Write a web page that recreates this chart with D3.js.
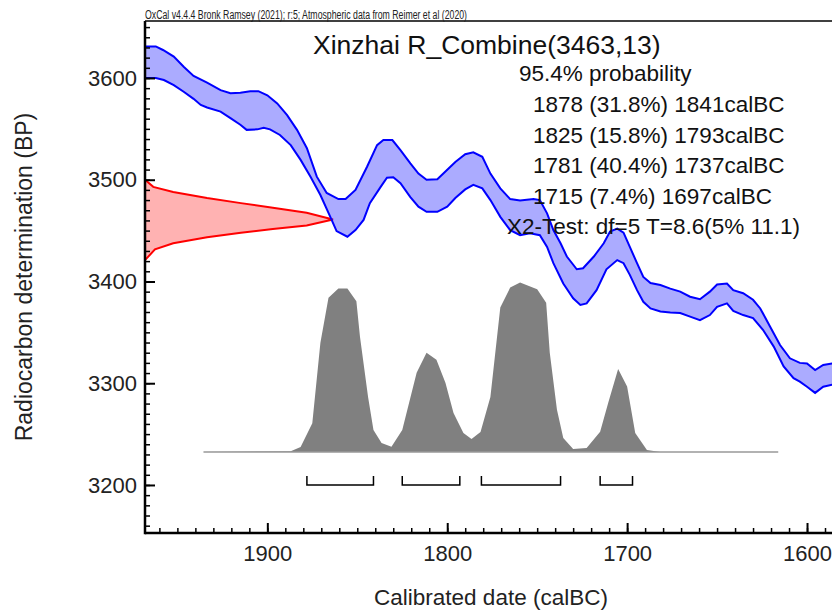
<!DOCTYPE html>
<html>
<head>
<meta charset="utf-8">
<script src="https://cdn.jsdelivr.net/npm/d3@7"></script>
<style>
  body { margin: 0; background: #fff; }
  svg { display: block; font-family: "Liberation Sans", Arial, sans-serif; }
</style>
</head>
<body>
<svg id="vis" width="832" height="611"></svg>
<script>
// calibration curve (IntCal20), upper / lower 1-sigma edge: [calBC, BP]
const calUpper = [[1968,3631],[1962,3631],[1958,3627.5],[1952,3621],[1946.5,3611],[1941,3602],[1933.5,3595.5],[1926,3588],[1920.5,3585],[1915,3585.5],[1909.5,3587],[1905,3587],[1900,3583],[1894.5,3575],[1889,3563.5],[1883.5,3549],[1878,3531],[1872.5,3503],[1867,3487],[1860.5,3481],[1856.5,3481],[1851,3490],[1844.5,3513],[1839,3534],[1835.5,3539],[1830.5,3539],[1826,3529],[1820.5,3516],[1816,3506],[1811.5,3500],[1805.5,3500.5],[1801,3508],[1795.5,3517.5],[1790,3525],[1785.5,3527],[1780.5,3522.5],[1776,3506],[1770.5,3491.5],[1765,3481],[1759.5,3479.5],[1752,3481],[1748.5,3480],[1744.5,3467],[1741,3450.5],[1737,3437.5],[1733.5,3424.5],[1728,3412],[1724.5,3413],[1718.5,3424.5],[1713,3437.5],[1709.5,3449],[1705.5,3452],[1702,3448],[1698.5,3434],[1694.5,3418],[1691,3404.5],[1687,3398.5],[1681.5,3396.5],[1676,3393],[1670.5,3390],[1665,3385],[1659.5,3382.5],[1654,3390],[1650,3397],[1644.5,3398],[1641,3391.5],[1635.5,3388.5],[1630,3382],[1626,3373.5],[1620.5,3355.5],[1615,3337.5],[1609.5,3324.5],[1604,3320],[1600,3319.5],[1595.5,3313],[1591,3318],[1586,3319.5],[1580,3320]];
const calLower = [[1968,3600],[1962,3600],[1957.5,3598],[1952,3593],[1946.5,3586.5],[1941,3579.5],[1937,3573.5],[1933.5,3571],[1926,3567],[1920.5,3560.5],[1915,3554],[1911.5,3549],[1905.5,3549.5],[1902,3551],[1898.5,3549.5],[1893,3544],[1887,3534],[1881.5,3519.5],[1876,3503],[1870.5,3485],[1865,3463.5],[1861.5,3449.5],[1855.5,3444],[1851,3450.5],[1846.5,3460.5],[1843,3477],[1837,3493],[1833.5,3502],[1830,3502.5],[1826,3496.5],[1820.5,3483],[1816,3473.5],[1811.5,3468.5],[1805.5,3468.5],[1800,3473.5],[1795.5,3482],[1790,3490.5],[1785.5,3495],[1780.5,3491.5],[1776,3480],[1770.5,3463.5],[1765,3450.5],[1759.5,3445.5],[1754,3447.5],[1748.5,3445.5],[1744.5,3434],[1741,3418],[1735.5,3398],[1730,3383.5],[1726,3377],[1722.5,3378.5],[1717,3391.5],[1711.5,3412],[1705.5,3421],[1702,3418],[1698.5,3406.5],[1694.5,3391.5],[1691,3380],[1687,3373.5],[1681.5,3370.5],[1676,3369.5],[1670.5,3369],[1665,3365.5],[1659.5,3362],[1654,3367],[1650,3375],[1644.5,3378.5],[1641,3371],[1635.5,3367],[1630,3364],[1624.5,3352.5],[1618.5,3336],[1613,3316.5],[1607.5,3305],[1604,3301.5],[1600,3296.5],[1595.5,3290.5],[1591,3296.5],[1586,3298.5],[1580,3299]];

// radiocarbon measurement R_Combine(3463,13): [BP, relative density]
const radiocarbon = [[3500,0],[3493,0.044],[3488,0.15],[3482,0.33],[3477,0.51],[3472.5,0.68],[3467.5,0.86],[3461,1],[3455,0.86],[3451.5,0.68],[3448,0.51],[3443.5,0.33],[3437.5,0.15],[3431.5,0.053],[3421,0]];

// calibrated distribution: [calBC, relative probability]
const calibrated = [[1935.5,0],[1887,0.005],[1881.5,0.03],[1875,0.17],[1870.5,0.645],[1866,0.91],[1860.5,0.965],[1855.5,0.965],[1850.5,0.89],[1848.5,0.68],[1844,0.325],[1841,0.13],[1836.5,0.053],[1831,0.031],[1825,0.13],[1817,0.467],[1811.5,0.586],[1806,0.544],[1801,0.408],[1796.5,0.23],[1791,0.112],[1786.5,0.077],[1781.5,0.118],[1776,0.325],[1770.5,0.852],[1765,0.97],[1759.5,1],[1750,0.96],[1745,0.88],[1743,0.586],[1739,0.25],[1735.5,0.083],[1730,0.018],[1722.5,0.024],[1715,0.12],[1710.5,0.29],[1705,0.49],[1700,0.386],[1695.5,0.112],[1689,0.012],[1681.5,0],[1616,0]];

// 95.4% ranges
const rangeFrom = [1878, 1825, 1781, 1715];
const rangeTo = [1841, 1793, 1737, 1697];
const rangePct = ["31.8", "15.8", "40.4", "7.4"];

const xTicks = [1900, 1800, 1700, 1600];
const yTicks = [3200, 3300, 3400, 3500, 3600];

const header = "OxCal v4.4.4 Bronk Ramsey (2021); r:5; Atmospheric data from Reimer et al (2020)";
const title = "Xinzhai R_Combine(3463,13)";
const chiTest = "X2-Test: df=5 T=8.6(5% 11.1)";

function draw() {
    let svg = d3.select("#vis");
    let left = 145, top = 21, bottom = 533, right = 843;

    let x = d3.scaleLinear().domain([1968, 1580]).range([left, right]);
    let y = d3.scaleLinear().domain([3152.8, 3656]).range([bottom, top]);
    let rx = d3.scaleLinear().domain([0, 1]).range([left, 333]);   // density along y axis
    let py = d3.scaleLinear().domain([0, 1]).range([452, 282.5]);  // calibrated prob

    svg.append("defs").append("clipPath").attr("id", "plotclip")
        .append("rect").attr("x", left).attr("y", top)
        .attr("width", right - left).attr("height", bottom - top);

    let g = svg.append("g").attr("clip-path", "url(#plotclip)");

    // calibrated distribution
    g.append("path")
        .datum(calibrated)
        .attr("fill", "#808080")
        .attr("d", d3.area().x(d => x(d[0])).y0(py(0)).y1(d => py(d[1])));
    g.append("line")
        .attr("x1", x(calibrated[0][0])).attr("x2", x(calibrated[calibrated.length - 1][0]))
        .attr("y1", py(0)).attr("y2", py(0))
        .attr("stroke", "#999").attr("stroke-width", 1.5);

    // radiocarbon determination
    g.append("path")
        .datum(radiocarbon)
        .attr("fill", "rgba(255,0,0,0.3)")
        .attr("stroke", "#ff0000")
        .attr("stroke-width", 2)
        .attr("d", d3.area().y(d => y(d[0])).x0(rx(0)).x1(d => rx(d[1])));

    // calibration curve band
    let bandLine = d3.line().x(d => x(d[0])).y(d => y(d[1]));
    g.append("path")
        .attr("fill", "rgba(0,0,255,0.33)")
        .attr("d", bandLine(calUpper.concat(calLower.slice().reverse())) + "Z");
    [calUpper, calLower].forEach(edge => {
        g.append("path")
            .datum(edge)
            .attr("fill", "none")
            .attr("stroke", "#0000ff")
            .attr("stroke-width", 2)
            .attr("d", bandLine);
    });

    // range brackets
    let br = svg.append("g").attr("stroke", "#000").attr("stroke-width", 1.5).attr("fill", "none");
    rangeFrom.forEach((f, i) => {
        let x0 = x(f), x1 = x(rangeTo[i]);
        br.append("path").attr("d", `M${x0},476V485H${x1}V476`);
    });

    // axes
    let yMinor = d3.range(3160, 3660, 10);
    let xMinor = d3.range(1960, 1580, -10);

    svg.append("g").attr("transform", `translate(${left},0)`)
        .call(d3.axisLeft(y).tickValues(yMinor).tickSize(-5).tickFormat("").tickSizeOuter(0))
        .call(a => a.select(".domain").remove())
        .selectAll("line").attr("stroke-width", 1.5);
    svg.append("g").attr("transform", `translate(0,${bottom})`)
        .call(d3.axisBottom(x).tickValues(xMinor).tickSize(-5).tickFormat("").tickSizeOuter(0))
        .call(a => a.select(".domain").remove())
        .selectAll("line").attr("stroke-width", 1.5);

    let yAxis = svg.append("g").attr("transform", `translate(${left},0)`)
        .call(d3.axisLeft(y).tickValues(yTicks).tickFormat(d3.format("d"))
            .tickSize(-10).tickSizeOuter(0).tickPadding(8));
    yAxis.select(".domain").remove();
    yAxis.selectAll("line").attr("stroke-width", 2);
    yAxis.selectAll("text").attr("font-size", 22).attr("fill", "#222")
        .attr("font-family", "Liberation Sans, Arial, sans-serif");

    let xAxis = svg.append("g").attr("transform", `translate(0,${bottom})`)
        .call(d3.axisBottom(x).tickValues(xTicks).tickFormat(d3.format("d"))
            .tickSize(-10).tickSizeOuter(0).tickPadding(12));
    xAxis.select(".domain").remove();
    xAxis.selectAll("line").attr("stroke-width", 2);
    xAxis.selectAll("text").attr("font-size", 22).attr("fill", "#222")
        .attr("font-family", "Liberation Sans, Arial, sans-serif");

    // frame
    svg.append("line").attr("x1", left).attr("x2", 832).attr("y1", top).attr("y2", top)
        .attr("stroke", "#000").attr("stroke-width", 1.5);
    svg.append("line").attr("x1", left).attr("x2", left).attr("y1", top).attr("y2", bottom + 1.25)
        .attr("stroke", "#000").attr("stroke-width", 2.5);
    svg.append("line").attr("x1", left).attr("x2", 832).attr("y1", bottom).attr("y2", bottom)
        .attr("stroke", "#000").attr("stroke-width", 2.5);

    // texts
    svg.append("text").attr("x", left).attr("y", 18.5)
        .attr("font-size", 12).attr("fill", "#222")
        .attr("textLength", 322).attr("lengthAdjust", "spacingAndGlyphs")
        .text(header);

    svg.append("text").attr("x", 313).attr("y", 54)
        .attr("font-size", 26.5).attr("fill", "#111")
        .text(title);

    let info = svg.append("g").attr("font-size", 22.5).attr("fill", "#111");
    info.append("text").attr("x", 519).attr("y", 81).text("95.4% probability");
    rangeFrom.forEach((f, i) => {
        info.append("text").attr("x", 533).attr("y", 112 + i * 30.6)
            .text(`${f} (${rangePct[i]}%) ${rangeTo[i]}calBC`);
    });
    info.append("text").attr("x", 507).attr("y", 234).text(chiTest);

    svg.append("text")
        .attr("transform", "translate(32,277) rotate(-90)")
        .attr("text-anchor", "middle")
        .attr("font-size", 23).attr("fill", "#222")
        .text("Radiocarbon determination (BP)");

    svg.append("text")
        .attr("x", 491).attr("y", 605)
        .attr("text-anchor", "middle")
        .attr("font-size", 22.5).attr("fill", "#222")
        .text("Calibrated date (calBC)");
}

document.addEventListener('DOMContentLoaded', () => {
    draw();
});
</script>
</body>
</html>
